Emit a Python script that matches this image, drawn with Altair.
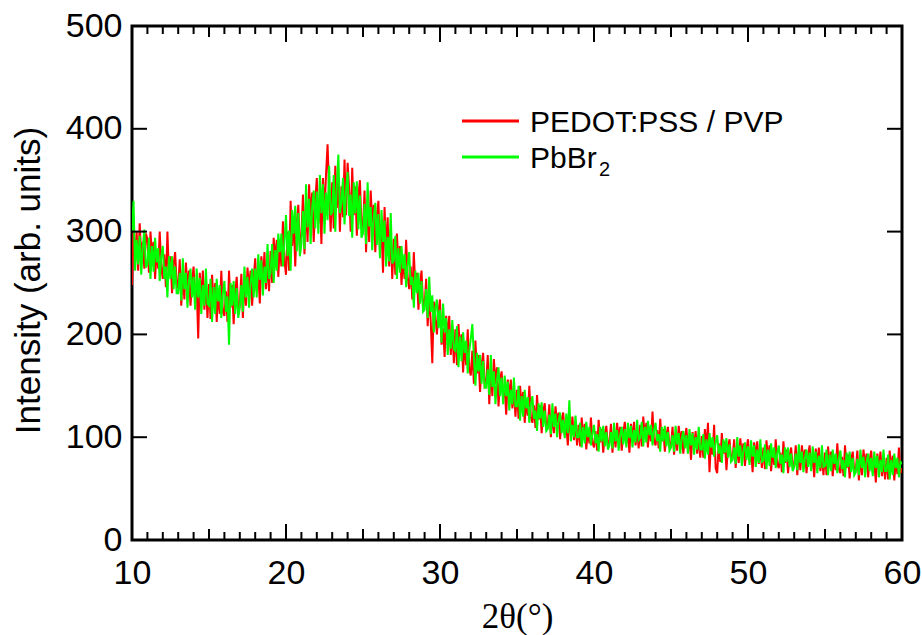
import altair as alt
import pandas as pd

# 2-theta scan grid: 10.0 .. 60.0 deg, 0.1 deg step
theta = [round(10 + 0.1 * i, 1) for i in range(501)]

pedot_pvp = [
    248, 306, 270, 300, 262, 308, 275, 290, 264, 298,
    293, 260, 300, 276, 290, 254, 283, 264, 300, 266,
    254, 278, 246, 300, 258, 276, 240, 268, 280, 250,
    245, 273, 228, 262, 234, 270, 246, 262, 228, 252,
    266, 232, 246, 196, 260, 234, 262, 224, 252, 216,
    249, 215, 258, 229, 250, 212, 242, 220, 262, 222,
    218, 242, 212, 262, 226, 248, 210, 240, 256, 222,
    229, 259, 216, 252, 228, 265, 244, 262, 228, 254,
    274, 242, 260, 230, 276, 252, 280, 244, 272, 242,
    281, 250, 294, 272, 292, 256, 288, 266, 310, 272,
    258, 300, 262, 330, 286, 312, 266, 308, 326, 282,
    296, 336, 278, 332, 290, 346, 312, 338, 290, 330,
    352, 308, 333, 288, 352, 318, 356, 385, 340, 300,
    348, 303, 364, 323, 354, 300, 344, 314, 370, 316,
    367, 342, 300, 362, 316, 344, 296, 334, 350, 306,
    304, 340, 280, 332, 290, 340, 308, 326, 280, 315,
    330, 282, 303, 260, 324, 278, 314, 266, 302, 254,
    293, 258, 298, 270, 286, 248, 274, 254, 292, 256,
    244, 266, 234, 280, 244, 260, 224, 248, 262, 228,
    228, 254, 208, 240, 212, 172, 232, 218, 200, 222,
    234, 190, 206, 178, 218, 196, 218, 180, 208, 172,
    205, 170, 210, 183, 200, 163, 192, 170, 205, 167,
    160, 184, 152, 194, 162, 180, 144, 170, 182, 150,
    153, 180, 132, 166, 140, 176, 152, 168, 130, 156,
    164, 138, 148, 122, 156, 138, 156, 128, 148, 120,
    146, 118, 150, 130, 144, 114, 136, 121, 150, 120,
    114, 131, 109, 141, 117, 131, 104, 124, 133, 110,
    112, 132, 100, 124, 104, 130, 114, 124, 98, 117,
    124, 102, 112, 92, 120, 104, 120, 97, 114, 92,
    112, 91, 119, 100, 113, 88, 108, 94, 119, 95,
    90, 106, 87, 117, 95, 108, 85, 103, 111, 92,
    94, 113, 85, 107, 90, 114, 98, 110, 87, 104,
    115, 94, 105, 85, 113, 98, 115, 92, 108, 89,
    112, 91, 120, 100, 114, 90, 110, 96, 125, 96,
    92, 107, 89, 118, 96, 108, 86, 102, 110, 91,
    92, 110, 83, 104, 87, 111, 95, 106, 84, 100,
    109, 88, 98, 78, 105, 90, 106, 84, 100, 80,
    101, 80, 108, 89, 114, 66, 97, 83, 112, 70,
    65, 94, 76, 104, 84, 96, 68, 90, 98, 79,
    80, 98, 70, 92, 75, 99, 83, 94, 72, 88,
    98, 76, 87, 66, 95, 80, 96, 74, 89, 70,
    90, 69, 97, 78, 92, 67, 87, 73, 98, 74,
    70, 85, 66, 96, 75, 88, 65, 82, 90, 71,
    73, 92, 63, 86, 68, 92, 76, 88, 65, 82,
    92, 70, 81, 61, 89, 73, 90, 67, 83, 63,
    85, 63, 91, 72, 86, 62, 82, 68, 94, 69,
    65, 81, 62, 92, 70, 83, 60, 78, 86, 67,
    68, 87, 58, 81, 63, 88, 72, 84, 61, 78,
    87, 66, 76, 56, 84, 69, 86, 62, 79, 59,
    80, 59, 87, 68, 82, 58, 78, 64, 90, 65,
    70,
]

pbbr2 = [
    300, 330, 262, 292, 268, 296, 258, 285, 302, 265,
    268, 294, 254, 286, 261, 294, 270, 284, 252, 276,
    286, 254, 266, 236, 276, 254, 276, 244, 266, 240,
    240, 260, 233, 274, 244, 260, 226, 252, 264, 236,
    256, 224, 264, 236, 255, 220, 248, 228, 264, 230,
    228, 254, 212, 246, 220, 254, 232, 248, 216, 240,
    252, 222, 237, 190, 250, 228, 252, 220, 245, 216,
    226, 248, 222, 266, 236, 256, 226, 250, 264, 236,
    264, 236, 278, 253, 272, 238, 266, 250, 288, 254,
    260, 288, 250, 282, 262, 298, 280, 298, 266, 290,
    316, 276, 301, 262, 321, 298, 325, 281, 318, 276,
    288, 320, 283, 346, 304, 332, 288, 324, 340, 303,
    339, 298, 355, 318, 346, 298, 338, 311, 364, 316,
    319, 355, 300, 345, 375, 318, 328, 352, 307, 340,
    358, 315, 336, 294, 348, 318, 349, 302, 335, 294,
    298, 327, 288, 348, 305, 324, 282, 314, 328, 287,
    317, 274, 321, 290, 311, 266, 295, 271, 318, 269,
    272, 296, 254, 284, 260, 286, 264, 278, 246, 268,
    280, 248, 256, 226, 262, 240, 260, 230, 252, 222,
    224, 244, 216, 256, 222, 238, 202, 226, 234, 206,
    224, 192, 230, 202, 216, 180, 205, 186, 214, 186,
    184, 208, 168, 198, 174, 202, 182, 194, 162, 184,
    196, 210, 178, 150, 182, 164, 180, 152, 174, 148,
    148, 166, 141, 180, 149, 164, 132, 156, 168, 140,
    158, 132, 160, 140, 154, 126, 146, 132, 158, 130,
    130, 150, 116, 140, 120, 146, 128, 139, 114, 132,
    140, 118, 126, 106, 133, 118, 134, 110, 126, 106,
    108, 122, 103, 133, 110, 123, 100, 116, 124, 104,
    117, 99, 123, 104, 136, 96, 112, 100, 121, 100,
    100, 114, 90, 110, 94, 115, 100, 110, 92, 104,
    112, 94, 103, 86, 110, 96, 111, 91, 105, 88,
    92, 105, 89, 114, 96, 107, 87, 102, 110, 93,
    108, 90, 114, 99, 111, 90, 107, 95, 117, 97,
    99, 115, 91, 110, 95, 116, 102, 112, 92, 107,
    114, 96, 103, 86, 110, 96, 111, 91, 105, 87,
    90, 102, 86, 111, 93, 104, 84, 99, 106, 89,
    102, 84, 108, 92, 104, 83, 100, 88, 110, 88,
    88, 103, 79, 98, 83, 104, 90, 100, 81, 95,
    102, 84, 92, 75, 98, 85, 99, 80, 93, 76,
    78, 90, 74, 100, 81, 92, 72, 87, 95, 78,
    91, 73, 97, 81, 92, 71, 88, 75, 98, 76,
    77, 93, 69, 88, 72, 94, 80, 90, 70, 85,
    92, 74, 83, 65, 90, 76, 90, 71, 84, 67,
    71, 84, 68, 93, 75, 86, 66, 80, 88, 71,
    85, 67, 91, 75, 86, 65, 82, 70, 92, 71,
    72, 88, 63, 83, 67, 88, 74, 84, 65, 80,
    87, 69, 78, 61, 85, 71, 86, 66, 80, 63,
    66, 79, 63, 88, 70, 81, 61, 76, 84, 67,
    80, 62, 86, 70, 82, 61, 78, 66, 88, 67,
    67, 83, 59, 78, 63, 84, 70, 80, 61, 76,
    74,
]

series_names = ["PEDOT:PSS / PVP", "PbBr"]
series_colors = ["#ff0000", "#00ff00"]

x_major = [10, 20, 30, 40, 50, 60]
x_medium = [15, 25, 35, 45, 55]
x_minor = [v for v in range(10, 61) if v % 5 != 0]
y_major = [0, 100, 200, 300, 400, 500]

W, H = 770, 514
SANS = "Liberation Sans"
SERIF = "Liberation Serif"

xscale = alt.Scale(domain=[10, 60], nice=False, zero=False)
yscale = alt.Scale(domain=[0, 500], nice=False, zero=False)

df_red = pd.DataFrame({"theta": theta, "I": pedot_pvp})
df_green = pd.DataFrame({"theta": theta, "I": pbbr2})

x_axis = alt.Axis(
    values=x_major, format="d", grid=False, domain=False, ticks=False, tickSize=0,
    labelFont=SANS, labelFontSize=34, labelColor="black",
    labelBaseline="alphabetic", labelPadding=43, labelFlush=False,
    title="2θ(°)", titleFont=SERIF, titleFontSize=35, titleFontWeight="normal",
    titleColor="black", titleX=W / 2, titleY=87, titleBaseline="alphabetic",
    titleAlign="center",
)
y_axis = alt.Axis(
    values=y_major, format="d", grid=False, domain=False, ticks=False, tickSize=0,
    labelFont=SANS, labelFontSize=34, labelColor="black", labelPadding=10,
    labelFlush=False,
    title="Intensity (arb. units)", titleFont=SANS, titleFontSize=35,
    titleFontWeight="normal", titleColor="black", titleAngle=270,
    titleX=-104, titleY=254, titleAlign="center", titleBaseline="middle",
)

XENC = lambda f: alt.X(f, scale=xscale, axis=x_axis)
YENC = lambda f: alt.Y(f, scale=yscale, axis=y_axis)

red = alt.Chart(df_red).mark_line(color=series_colors[0], strokeWidth=2.0, clip=True).encode(
    x=XENC("theta:Q"), y=YENC("I:Q"),
)
green = alt.Chart(df_green).mark_line(color=series_colors[1], strokeWidth=2.0, clip=True).encode(
    x=XENC("theta:Q"), y=YENC("I:Q"),
)

def xticks(vals, length):
    d = pd.DataFrame({"theta": vals})
    bottom = alt.Chart(d).mark_rule(color="black", strokeWidth=2).encode(
        x=XENC("theta:Q"), y=alt.value(H), y2=alt.value(H - length),
    )
    top = alt.Chart(d).mark_rule(color="black", strokeWidth=2).encode(
        x=XENC("theta:Q"), y=alt.value(0), y2=alt.value(length),
    )
    return [bottom, top]

dy = pd.DataFrame({"I": y_major})
yt_left = alt.Chart(dy).mark_rule(color="black", strokeWidth=2).encode(
    y=YENC("I:Q"), x=alt.value(0), x2=alt.value(15),
)
yt_right = alt.Chart(dy).mark_rule(color="black", strokeWidth=2).encode(
    y=YENC("I:Q"), x=alt.value(W - 15), x2=alt.value(W),
)

# manual legend
leg_red_line = alt.Chart(pd.DataFrame({"s": [series_names[0]]})).mark_rule(
    color=series_colors[0], strokeWidth=3).encode(
    x=alt.value(330), x2=alt.value(387), y=alt.value(95))
leg_green_line = alt.Chart(pd.DataFrame({"s": [series_names[1]]})).mark_rule(
    color=series_colors[1], strokeWidth=3).encode(
    x=alt.value(330), x2=alt.value(387), y=alt.value(131))
leg_red_text = alt.Chart(pd.DataFrame({"s": [series_names[0]]})).mark_text(
    font=SANS, fontSize=30, align="left", baseline="alphabetic", color="black").encode(
    text="s:N", x=alt.value(398), y=alt.value(106))
leg_green_text = alt.Chart(pd.DataFrame({"s": [series_names[1]]})).mark_text(
    font=SANS, fontSize=30, align="left", baseline="alphabetic", color="black").encode(
    text="s:N", x=alt.value(398), y=alt.value(142))
leg_green_sub = alt.Chart(pd.DataFrame({"s": ["2"]})).mark_text(
    font=SANS, fontSize=20, align="left", baseline="alphabetic", color="black").encode(
    text="s:N", x=alt.value(467), y=alt.value(150))

layers = [red, green] + xticks(x_major, 16) + xticks(x_medium, 11) + xticks(x_minor, 8) + [
    yt_left, yt_right, leg_red_line, leg_green_line, leg_red_text, leg_green_text, leg_green_sub]

chart = alt.layer(*layers).properties(
    width=W, height=H,
    autosize=alt.AutoSizeParams(type="none"),
    padding={"left": 132, "top": 26, "right": 20, "bottom": 95},
    background="white",
).configure_view(stroke="black", strokeWidth=3)

chart.save("out.html", embed_options={"renderer": "svg", "actions": False})
